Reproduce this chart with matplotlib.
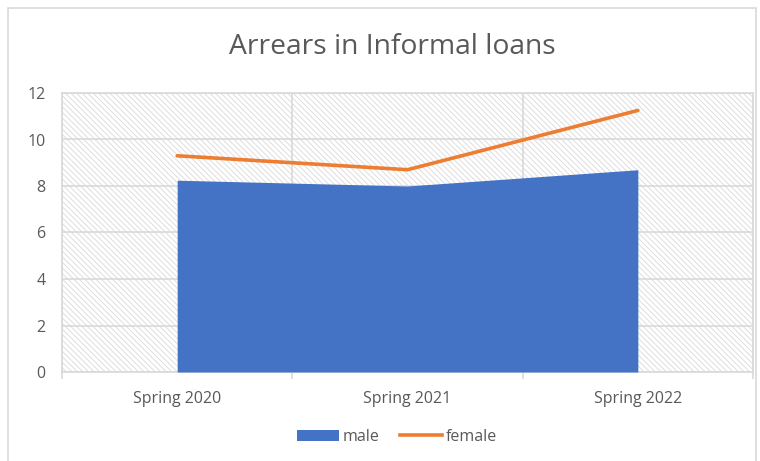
import matplotlib
matplotlib.use('Agg')

import matplotlib.pyplot as plt
from matplotlib.patches import Rectangle, Patch
from matplotlib.lines import Line2D

categories = ['Spring 2020', 'Spring 2021', 'Spring 2022']
male = [8.25, 8.0, 8.7]
female = [9.3, 8.7, 11.25]
yticks = [0, 2, 4, 6, 8, 10, 12]

plt.rcParams['font.family'] = ['Open Sans', 'DejaVu Sans']
plt.rcParams['hatch.color'] = '#d9d9d9'
plt.rcParams['hatch.linewidth'] = 0.6

fig = plt.figure(figsize=(7.6, 4.61), dpi=100)
ax = fig.add_axes([62 / 760, 1 - 372 / 461, (753 - 62) / 760, (372 - 93) / 461])

# outer chart border
fig.patches.append(Rectangle((8 / 760, -0.01), 748 / 760, 1 - 8 / 461 + 0.01,
                             transform=fig.transFigure, fill=False,
                             edgecolor='#d9d9d9', linewidth=1.2))

# hatched plot area
ax.add_patch(Rectangle((0, 0), 1, 1, transform=ax.transAxes, facecolor='white',
                       hatch='\\\\\\\\\\\\', edgecolor='#d9d9d9', linewidth=0, zorder=0))

x = list(range(len(categories)))
ax.fill_between(x, male, 0, color='#4472c4', linewidth=0, zorder=3)
ax.plot(x, female, color='#ed7d31', linewidth=2.6, solid_capstyle='round', zorder=4)

ax.set_xlim(-0.5, 2.5)
ax.set_ylim(0, 12)
ax.set_yticks(yticks)
ax.set_xticks(x)
ax.set_xticklabels(categories)
ax.set_xticks([-0.5, 0.5, 1.5, 2.5], minor=True)

ax.grid(axis='y', color='#d9d9d9', linewidth=1.2, zorder=1)
ax.grid(axis='x', which='minor', color='#d9d9d9', linewidth=1.2, zorder=1)
ax.set_axisbelow(True)

for side in ['top', 'right', 'left', 'bottom']:
    ax.spines[side].set_color('#d9d9d9')
    ax.spines[side].set_linewidth(1.2)

ax.tick_params(axis='x', which='major', length=0, pad=14, labelsize=11.5, labelcolor='#595959')
ax.tick_params(axis='x', which='minor', length=5, color='#d9d9d9', width=1.2)
ax.tick_params(axis='y', length=0, pad=12, labelsize=11.5, labelcolor='#595959')

fig.text(392 / 760, 1 - 47 / 461, 'Arrears in Informal loans', ha='center', va='center',
         fontsize=20.3, color='#595959')

handles = [Patch(facecolor='#4472c4', edgecolor='none', label='male'),
           Line2D([0], [0], color='#ed7d31', linewidth=2.6, label='female')]
fig.legend(handles=handles, loc='center', bbox_to_anchor=(397 / 760, 1 - 437 / 461), ncol=2,
           frameon=False, fontsize=11.5, labelcolor='#595959', handlelength=2.6,
           handleheight=0.7, columnspacing=1.3, handletextpad=0.25)

fig.savefig('out.png', dpi=100)
plt.close(fig)
